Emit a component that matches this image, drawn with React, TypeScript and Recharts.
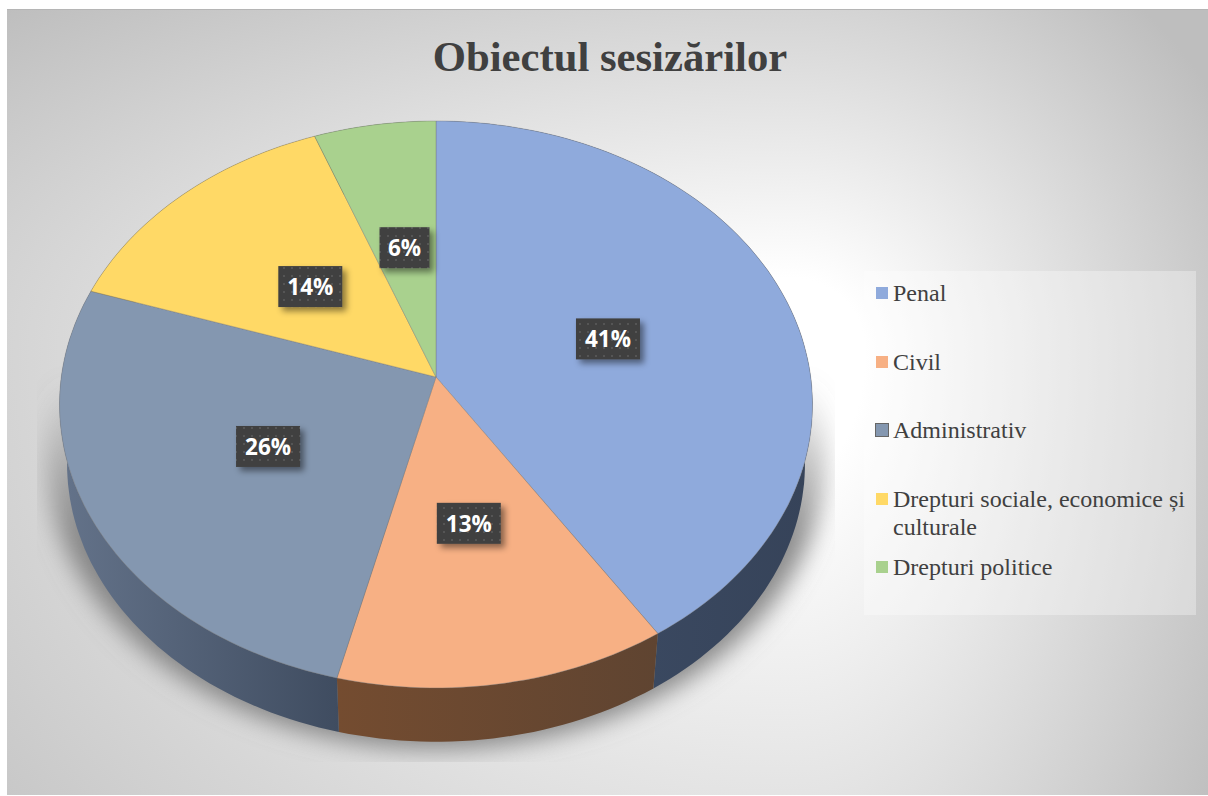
import React from 'react';
import { PieChart, Pie, Legend } from 'recharts';

const categories = ['Penal', 'Civil', 'Administrativ', 'Drepturi sociale, economice și culturale', 'Drepturi politice'];
const shares = [40.85, 13.0, 26.25, 14.15, 5.75];
const topColors = ['#8faadc', '#f7b084', '#8497b0', '#ffd966', '#a9d18e'];
const wallLeft = ['#3f4f69', '#744c30', '#64738a', '#8a7430', '#5f7a4c'];
const wallRight = ['#364359', '#5f4431', '#3f4c60', '#8a7430', '#5f7a4c'];

const rows = categories.map((name, i) => ({ name, value: shares[i], fill: topColors[i] }));
const shadowRow = [{ name: 'shadow', value: 1 }];

const WIDTH = 1208;
const HEIGHT = 796;
const CX = 436;
const CY = 377;
const RADIUS = 374.7;
const TILT = 0.7494; // ry / rx of the tilted disc
const PERSPECTIVE = 0.097;
const DEPTH = 60;
const LOWER_RIM = 0.98;
const LABEL_RADIUS = [0.485, 0.503, 0.5, 0.48, 0.49];

// background is a white spot with four different falloffs, one per quadrant
const SPOT_X = 790;
const SPOT_Y = 350;
const quadrants = [
  { left: 7, top: 9, width: SPOT_X - 7, height: SPOT_Y - 9, rx: 1107, ry: 482, at: '100% 100%' },
  { left: SPOT_X, top: 9, width: WIDTH - SPOT_X, height: SPOT_Y - 9, rx: 500, ry: 482, at: '0% 100%' },
  { left: 7, top: SPOT_Y, width: SPOT_X - 7, height: HEIGHT - 1 - SPOT_Y, rx: 1107, ry: 880, at: '100% 0%' },
  { left: SPOT_X, top: SPOT_Y, width: WIDTH - SPOT_X, height: HEIGHT - 1 - SPOT_Y, rx: 500, ry: 880, at: '0% 0%' },
];

// point on the tilted disc, angle in recharts degrees (90 = top, going clockwise as it drops)
const project = (cx: number, cy: number, r: number, angle: number, f = 1) => {
  const a = (angle * Math.PI) / 180;
  const u = Math.cos(a) * f;
  const v = -Math.sin(a) * f;
  const w = 1 - PERSPECTIVE * v;
  return [cx + (r * u) / w, cy + (r * TILT * v) / w];
};

const rim = (cx: number, cy: number, r: number, from: number, to: number) => {
  const steps = Math.max(4, Math.ceil(Math.abs(to - from) / 1.5));
  const pts: number[][] = [];
  for (let i = 0; i <= steps; i++) pts.push(project(cx, cy, r, from + ((to - from) * i) / steps));
  return pts;
};

const toPath = (pts: number[][]) => 'M' + pts.map((p) => `${p[0].toFixed(1)} ${p[1].toFixed(1)}`).join('L') + 'Z';

const TopSlice = (props: any) => {
  const { cx, cy, outerRadius, startAngle, endAngle, fill } = props;
  const pts = [[cx, cy], ...rim(cx, cy, outerRadius, startAngle, endAngle)];
  return <path d={toPath(pts)} fill={fill} stroke="#6f6f6f" strokeOpacity={0.35} strokeWidth={1} />;
};

const WallSlice = (props: any) => {
  const { cx, cy, outerRadius, startAngle, endAngle, index } = props;
  const upper = rim(cx, cy, outerRadius, startAngle, endAngle);
  const lower = rim(cx, cy + DEPTH, outerRadius * LOWER_RIM, endAngle, startAngle);
  return <path d={toPath([...upper, ...lower])} fill={`url(#wall${index})`} />;
};

const ShadowDisc = (props: any) => {
  const { cx, cy, outerRadius } = props;
  const pts = rim(cx, cy + 50, outerRadius * 1.035, 90, -270);
  return (
    <g clipPath="url(#shadowClip)">
      <path d={toPath(pts)} fill="url(#shadowFade)" filter="url(#shadowBlur)" />
    </g>
  );
};

const PercentLabel = (props: any) => {
  const { cx, cy, outerRadius, midAngle, value, index } = props;
  const [x, y] = project(cx, cy, outerRadius, midAngle, LABEL_RADIUS[index]);
  const text = `${Math.round(value)}%`;
  const w = text.length > 2 ? 64 : 50;
  return (
    <g>
      <rect x={x - w / 2} y={y - 20.5} width={w} height={41} fill="url(#labelDots)" filter="url(#labelShadow)" />
      <text
        x={x}
        y={y + 8.5}
        textAnchor="middle"
        fill="#ffffff"
        fontFamily="'Open Sans', sans-serif"
        fontWeight={700}
        fontSize={22.5}
      >
        {text}
      </text>
    </g>
  );
};

// three Pies feed the legend, so go through the categories once each
const LegendBox = ({ payload }: any) => {
  const names = categories.filter((c) => (payload || []).some((p: any) => p.value === c));
  return (
    <div
      style={{
        width: 332,
        height: 344,
        boxSizing: 'border-box',
        paddingTop: 8,
        background: 'rgba(255,255,255,0.32)',
        fontFamily: "'Liberation Serif', serif",
        fontSize: 24,
        lineHeight: '28px',
        color: '#404040',
      }}
    >
      {names.map((name, i) => (
        <div key={name} style={{ position: 'relative', minHeight: 68.6, paddingLeft: 29, paddingRight: 6, textAlign: 'left' }}>
          <span
            style={{
              position: 'absolute',
              left: i === 2 ? 11 : 12,
              top: i === 2 ? 7 : 8,
              width: 12,
              height: 12,
              background: topColors[i],
              border: i === 2 ? '1px solid #666666' : 'none',
            }}
          />
          {name}
        </div>
      ))}
    </div>
  );
};

export default function App() {
  return (
    <div style={{ position: 'absolute', left: 0, top: 0, width: WIDTH, height: HEIGHT, background: '#ffffff', overflow: 'hidden' }}>
      {quadrants.map((q) => (
        <div
          key={q.at}
          style={{
            position: 'absolute',
            left: q.left,
            top: q.top,
            width: q.width,
            height: q.height,
            background: `radial-gradient(ellipse ${q.rx}px ${q.ry}px at ${q.at}, #ffffff 15%, #bebebe 100%)`,
          }}
        />
      ))}
      <div style={{ position: 'absolute', left: 7, top: 9, right: 0, height: 1, background: '#b5b5b5' }} />
      <div style={{ position: 'absolute', left: 0, top: 0 }}>
        <PieChart width={WIDTH} height={HEIGHT} margin={{ top: 0, right: 0, bottom: 0, left: 0 }}>
          <defs>
            {wallLeft.map((c, i) => (
              <linearGradient key={c} id={`wall${i}`} x1="0" y1="0" x2="1" y2="0">
                <stop offset="0%" stopColor={c} />
                <stop offset="100%" stopColor={wallRight[i]} />
              </linearGradient>
            ))}
            <linearGradient id="shadowFade" gradientUnits="userSpaceOnUse" x1="0" y1="380" x2="0" y2="540">
              <stop offset="0%" stopColor="#777777" stopOpacity={0} />
              <stop offset="100%" stopColor="#777777" stopOpacity={0.85} />
            </linearGradient>
            <filter id="shadowBlur" x="-10%" y="-10%" width="120%" height="120%">
              <feGaussianBlur stdDeviation="12" />
            </filter>
            <clipPath id="shadowClip">
              <rect x={37} y={300} width={798} height={462} />
            </clipPath>
            <pattern id="labelDots" width="8" height="8" patternUnits="userSpaceOnUse">
              <rect width="8" height="8" fill="#404040" />
              <rect x="3" y="3" width="2" height="2" fill="#555555" />
            </pattern>
            <filter id="labelShadow" x="-20%" y="-20%" width="150%" height="160%">
              <feDropShadow dx="4" dy="4" stdDeviation="3" floodColor="#000000" floodOpacity="0.45" />
            </filter>
          </defs>
          <text
            x={610}
            y={71}
            textAnchor="middle"
            fill="#404040"
            fontFamily="'Liberation Serif', serif"
            fontWeight={700}
            fontSize={42.7}
          >
            Obiectul sesizărilor
          </text>
          <Pie
            data={shadowRow}
            dataKey="value"
            cx={CX}
            cy={CY}
            outerRadius={RADIUS}
            startAngle={90}
            endAngle={-270}
            stroke="none"
            legendType="none"
            shape={ShadowDisc}
            isAnimationActive={false}
          />
          <Pie
            data={rows}
            dataKey="value"
            nameKey="name"
            cx={CX}
            cy={CY}
            outerRadius={RADIUS}
            startAngle={90}
            endAngle={-270}
            legendType="none"
            shape={WallSlice}
            isAnimationActive={false}
          />
          <Pie
            data={rows}
            dataKey="value"
            nameKey="name"
            cx={CX}
            cy={CY}
            outerRadius={RADIUS}
            startAngle={90}
            endAngle={-270}
            shape={TopSlice}
            label={PercentLabel}
            labelLine={false}
            isAnimationActive={false}
          />
          <Legend
            content={LegendBox}
            wrapperStyle={{ position: 'absolute', left: 864, top: 271, width: 332, height: 344 }}
          />
        </PieChart>
      </div>
    </div>
  );
}
